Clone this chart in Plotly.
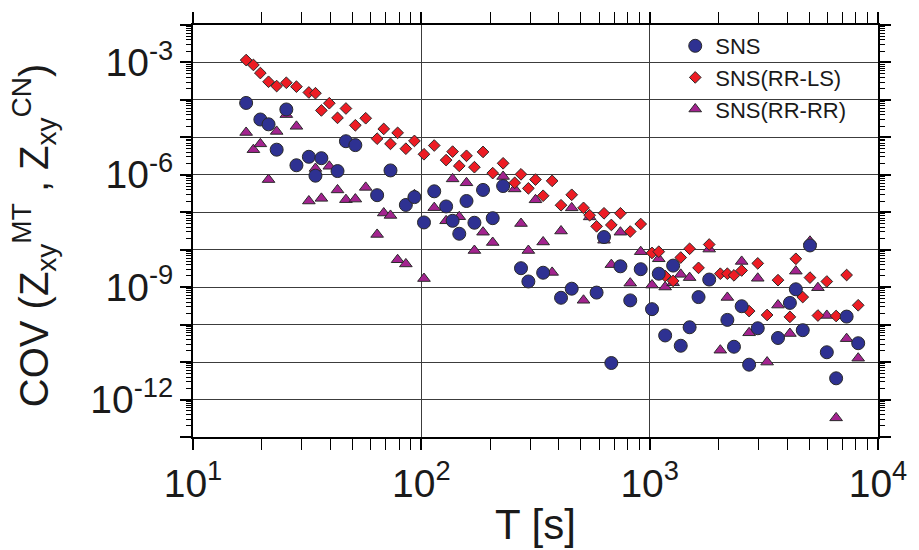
import plotly.graph_objects as go

# ---------------- data ----------------
period_s = [17.09, 18.39, 19.72, 21.42, 23.25, 25.63, 28.38, 32.16, 34.38, 36.50,
            39.54, 42.95, 46.75, 51.40, 57.07, 64.04, 68.45, 73.27, 78.74, 85.54,
            93.28, 102.7, 113.9, 128.4, 137.1, 146.6, 157.7, 170.8, 186.3, 205.4,
            228.1, 256.4, 273.2, 294.3, 316.2, 341.6, 374.0, 409.1, 455.6, 513.2,
            546.0, 585.6, 631.0, 679.4, 744.5, 822.1, 913.6, 1024, 1096, 1169,
            1267, 1368, 1496, 1637, 1823, 2039, 2189, 2340, 2529, 2726,
            2974, 3269, 3648, 4113, 4367, 4682, 5036, 5456, 5968, 6556,
            7289, 8189]

cov_sns = [8.30e-5, None, 3.00e-5, 2.23e-5, 4.69e-6, 5.56e-5, 1.80e-6, 3.03e-6, 9.47e-7, 2.78e-6,
           None, 1.26e-6, 7.89e-6, 6.21e-6, None, 2.86e-7, None, 1.31e-6, None, 1.57e-7,
           2.54e-7, 5.35e-8, 3.63e-7, 1.43e-7, 5.92e-8, 2.67e-8, 2.00e-7, 5.25e-8, 3.95e-7, 6.96e-8,
           5.02e-7, None, 3.21e-9, 1.42e-9, None, 2.43e-9, None, 5.22e-10, 9.11e-10, None,
           None, 7.17e-10, 2.18e-8, 9.45e-12, 3.61e-9, 4.44e-10, 3.02e-9, 2.59e-10, 2.29e-9, 5.14e-11,
           3.77e-9, 2.73e-11, 8.51e-11, 5.44e-10, 1.60e-9, None, 1.34e-10, 2.57e-11, 3.10e-10, 8.53e-12,
           8.01e-11, None, 4.40e-11, 3.80e-10, 8.79e-10, 7.11e-11, 1.30e-8, None, 1.83e-11, 3.69e-12,
           1.64e-10, 3.19e-11]

cov_rr_ls = [1.158e-3, 8.58e-4, 5.22e-4, 3.05e-4, 2.34e-4, 2.87e-4, 2.26e-4, 1.58e-4, 1.51e-4, 5.24e-5,
             8.16e-5, 3.32e-5, 5.90e-5, 2.10e-5, 3.24e-5, 9.22e-6, 1.68e-5, 6.71e-6, 1.32e-5, 4.98e-6,
             8.04e-6, 3.54e-6, 6.06e-6, 2.47e-6, 4.16e-6, 1.73e-6, 3.22e-6, 1.60e-6, 4.09e-6, 1.11e-6,
             2.03e-6, 6.12e-7, 1.03e-6, 4.35e-7, 7.46e-7, 2.76e-7, 6.90e-7, 1.54e-7, 2.93e-7, 1.31e-7,
             8.33e-8, 4.21e-8, 9.39e-8, 4.58e-8, 9.39e-8, 3.06e-8, 4.86e-8, 8.21e-9, 8.87e-9, 1.99e-9,
             1.47e-9, 6.19e-9, 1.06e-8, 3.28e-9, 1.38e-8, 2.29e-9, 2.29e-9, 2.07e-9, 2.79e-9, 2.30e-10,
             4.32e-9, 1.81e-10, 1.54e-9, 1.61e-10, 5.73e-9, 5.44e-10, 1.80e-9, 1.75e-10, 1.42e-9, 1.70e-10,
             2.11e-9, 3.29e-10]

cov_rr_rr = [1.35e-5, 4.69e-6, 6.71e-6, 7.46e-7, 1.44e-5, 4.05e-5, 1.97e-5, 2.00e-7, 1.48e-6, 2.35e-7,
             1.69e-6, 3.95e-7, 2.17e-7, 2.25e-7, 4.62e-7, 2.56e-8, 9.56e-8, 8.23e-8, 5.40e-9, 4.17e-9,
             2.93e-7, 1.70e-9, 1.33e-7, 5.92e-8, 7.78e-7, 7.61e-8, 6.12e-7, 9.53e-9, 2.94e-8, 1.56e-8,
             9.03e-7, 4.20e-7, 5.01e-8, 9.53e-9, 2.15e-7, 1.61e-8, 2.48e-9, 3.16e-8, 1.31e-7, 4.47e-10,
             7.52e-8, None, 1.79e-8, 4.00e-9, 2.94e-8, 1.28e-9, 8.87e-9, 1.14e-9, 5.73e-9, 1.01e-9,
             1.31e-9, 2.20e-9, 1.80e-9, None, 1.04e-8, 2.08e-11, 5.32e-10, None, 4.87e-9, 6.05e-11,
             1.73e-9, 1.00e-11, 3.33e-10, 5.80e-11, 2.68e-9, None, 1.68e-8, 9.68e-10, 1.76e-10, 3.24e-13,
             4.22e-11, 1.27e-11]

series_names = ["SNS", "SNS(RR-LS)", "SNS(RR-RR)"]

x_exponents = [1, 2, 3, 4]
x_tick_vals = [10.0 ** e for e in x_exponents]
x_tick_text = ["10<sup>%d</sup>" % e for e in x_exponents]
x_minor_vals = [k * 10.0 ** e for e in [1, 2, 3] for k in range(2, 10)]

y_exponents = list(range(-13, -1))          # every decade: tick + grid line
y_label_exponents = [-3, -6, -9, -12]       # decades that carry a label
y_tick_vals = [10.0 ** e for e in y_exponents]
y_label_vals = [10.0 ** e for e in y_label_exponents]
y_label_text = ["10<sup>%d</sup>" % e for e in y_label_exponents]
y_minor_vals = [k * 10.0 ** e for e in range(-13, -2) for k in range(2, 10)]

# ---------------- figure ----------------
FONT = "Liberation Sans, Arial, Helvetica, sans-serif"
INK = "#1a1a1a"
EDGE = "#2a2a2a"

fig = go.Figure()
fig.add_trace(go.Scatter(
    x=period_s, y=cov_rr_rr, mode="markers", name=series_names[2],
    marker=dict(symbol="triangle-up", size=11, color="#A3238F",
                line=dict(color=EDGE, width=1))))
fig.add_trace(go.Scatter(
    x=period_s, y=cov_rr_ls, mode="markers", name=series_names[1],
    marker=dict(symbol="diamond", size=9, color="#ED1C24",
                line=dict(color=EDGE, width=1))))
fig.add_trace(go.Scatter(
    x=period_s, y=cov_sns, mode="markers", name=series_names[0],
    marker=dict(symbol="circle", size=13, color="#2E3192",
                line=dict(color=EDGE, width=1))))
# empty helper trace so the label-only overlay axis is drawn
fig.add_trace(go.Scatter(x=[None], y=[None], yaxis="y2", showlegend=False,
                         hoverinfo="skip", mode="markers"))

tick_style = dict(ticks="outside", ticklen=11, tickwidth=1.5, tickcolor="black")
line_style = dict(showline=True, linewidth=2, linecolor="black", mirror="allticks")
grid_style = dict(showgrid=True, gridcolor="#3c3c3c", gridwidth=1, zeroline=False)
label_font = dict(size=39, color=INK, family=FONT)

fig.update_layout(
    xaxis=dict(type="log", range=[1, 4], tickmode="array",
               tickvals=x_tick_vals, ticktext=x_tick_text, tickfont=label_font,
               **tick_style, **line_style, **grid_style,
               minor=dict(tickmode="array", tickvals=x_minor_vals, ticks="outside",
                          ticklen=5, tickwidth=1, tickcolor="black", showgrid=False)),
    yaxis=dict(type="log", range=[-13, -2], tickmode="array",
               tickvals=y_tick_vals, showticklabels=False,
               **tick_style, **line_style, **grid_style,
               minor=dict(tickmode="array", tickvals=y_minor_vals, ticks="outside",
                          ticklen=5, tickwidth=1, tickcolor="black", showgrid=False)),
    yaxis2=dict(type="log", range=[-13, -2], overlaying="y", side="left", anchor="x",
                tickmode="array", tickvals=y_label_vals, ticktext=y_label_text,
                tickfont=label_font, ticks="outside", ticklen=11, tickwidth=1.5,
                tickcolor="black", showgrid=False, zeroline=False, showline=False),
)

fig.update_layout(
    width=919, height=550,
    margin=dict(l=193, r=34, t=14, b=113),
    plot_bgcolor="white", paper_bgcolor="white",
    font=dict(family=FONT, color=INK),
    showlegend=True,
    legend=dict(x=0.704, y=1.0, xanchor="left", yanchor="top",
                bgcolor="rgba(0,0,0,0)", borderwidth=0, traceorder="reversed",
                font=dict(size=22, color=INK, family=FONT)),
    annotations=[
        dict(text="COV (Z<sub>xy</sub><sup>MT</sup> , Z<sub>xy</sub><sup>CN</sup>)",
             textangle=-90, xref="paper", yref="paper", x=-0.232, y=0.49,
             xanchor="center", yanchor="middle", showarrow=False,
             font=dict(size=40, color=INK, family=FONT)),
        dict(text="T [s]", xref="paper", yref="paper", x=0.5, y=-0.213,
             xanchor="center", yanchor="middle", showarrow=False,
             font=dict(size=42, color=INK, family=FONT)),
    ],
)

fig.write_html("out.html")
